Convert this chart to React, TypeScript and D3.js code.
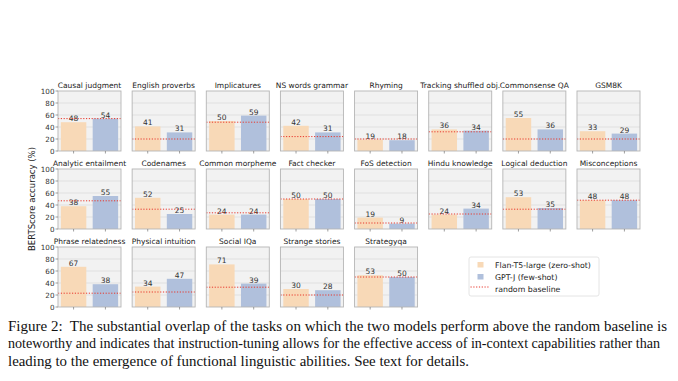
import React from "react";
import * as d3 from "d3";

const tasks = [
  "Causal judgment", "English proverbs", "Implicatures", "NS words grammar", "Rhyming",
  "Tracking shuffled obj.", "Commonsense QA", "GSM8K",
  "Analytic entailment", "Codenames", "Common morpheme", "Fact checker", "FoS detection",
  "Hindu knowledge", "Logical deduction", "Misconceptions",
  "Phrase relatedness", "Physical intuition", "Social IQa", "Strange stories", "Strategyqa",
];
const flanT5 = [48, 41, 50, 42, 19, 36, 55, 33, 38, 52, 24, 50, 19, 24, 53, 48, 67, 34, 71, 30, 53];
const gptJ = [54, 31, 59, 31, 18, 34, 36, 29, 55, 25, 24, 50, 9, 34, 35, 48, 38, 47, 39, 28, 50];
const randomBaseline = [54, 20, 48, 24, 20, 32, 20, 20, 47, 33, 27, 50, 10, 25, 33, 48, 23, 25, 33, 20, 50];
const yTicks = [0, 20, 40, 60, 80, 100];
const seriesNames = ["Flan-T5-large (zero-shot)", "GPT-J (few-shot)", "random baseline"];
const captionLines = [
  "Figure 2:  The substantial overlap of the tasks on which the two models perform above the random baseline is",
  "noteworthy and indicates that instruction-tuning allows for the effective access of in-context capabilities rather than",
  "leading to the emergence of functional linguistic abilities. See text for details.",
];
const captionWidths = [659, 652, 461];

const ORANGE = "#f8d9b7";
const BLUE = "#b0c0dc";
const RED = "#e8372c";
const FONT = "DejaVu Sans, sans-serif";

const NCOL = 8;
const PW = 63;
const PH = 60;
const colX = d3.scaleLinear().domain([0, NCOL - 1]).range([58, 577]);
const rowY = d3.scaleLinear().domain([0, 2]).range([91, 247]);
const x = d3.scaleLinear().domain([-0.49, 1.49]).range([0, PW]);
const y = d3.scaleLinear().domain([0, 100]).range([PH, 0]);

function Panel({ i }: { i: number }) {
  const c = i % NCOL;
  const r = Math.floor(i / NCOL);
  const vals = [flanT5[i], gptJ[i]];
  const cols = [ORANGE, BLUE];
  return (
    <g transform={`translate(${colX(c)},${rowY(r)})`}>
      <rect x={0} y={0} width={PW} height={PH} fill="#f2f2f2" />
      {yTicks.slice(1, -1).map((t) => (
        <line key={t} x1={0} x2={PW} y1={y(t)} y2={y(t)} stroke="#dcdcdc" strokeWidth={0.8} />
      ))}
      {vals.map((v, k) => (
        <g key={k}>
          <rect x={x(k - 0.4)} y={y(v)} width={x(k + 0.4) - x(k - 0.4)} height={y(0) - y(v)} fill={cols[k]} />
          <text x={x(k)} y={y(v) - 1} textAnchor="middle" fontSize={7.5} fill="#333" fontFamily={FONT}>
            {v}
          </text>
        </g>
      ))}
      <line x1={0} x2={PW} y1={y(randomBaseline[i])} y2={y(randomBaseline[i])} stroke={RED} strokeWidth={1} strokeDasharray="1.2,1.6" />
      <rect x={0} y={0} width={PW} height={PH} fill="none" stroke="#b5b5b5" strokeWidth={0.9} />
      {[0, 1].map((k) => (
        <line key={k} x1={x(k)} x2={x(k)} y1={PH} y2={PH + 2.5} stroke="#777" strokeWidth={0.7} />
      ))}
      {c === 0 &&
        yTicks.map((t) => (
          <g key={t}>
            <line x1={-2.5} x2={0} y1={y(t)} y2={y(t)} stroke="#777" strokeWidth={0.7} />
            <text x={-3.5} y={y(t) + 2.6} textAnchor="end" fontSize={7.2} fill="#333" fontFamily={FONT}>
              {t}
            </text>
          </g>
        ))}
      <text x={PW / 2} y={-3} textAnchor="middle" fontSize={7.5} fill="#222" fontFamily={FONT}>
        {tasks[i]}
      </text>
    </g>
  );
}

export default function App() {
  return (
    <svg width={678} height={381} style={{ position: "absolute", left: 0, top: 0, background: "#fff" }}>
      {tasks.map((_, i) => (
        <Panel key={i} i={i} />
      ))}
      <text transform="translate(35,199) rotate(-90)" textAnchor="middle" fontSize={8.5} fill="#222" fontFamily={FONT}>
        BERTScore accuracy (%)
      </text>
      <g transform="translate(469,257)">
        <rect x={0} y={0} width={130} height={39} rx={2} fill="#fff" stroke="#ddd" strokeWidth={0.8} />
        <rect x={8.5} y={5} width={6} height={5.5} fill={ORANGE} />
        <rect x={8.5} y={17} width={6} height={5.5} fill={BLUE} />
        <line x1={1.5} x2={20} y1={30} y2={30} stroke={RED} strokeWidth={1} strokeDasharray="1.2,1.6" />
        {seriesNames.map((s, k) => (
          <text key={s} x={26} y={10.5 + k * 12} fontSize={7.8} fill="#222" fontFamily={FONT}>
            {s}
          </text>
        ))}
      </g>
      {captionLines.map((l, k) => (
        <text
          key={k}
          x={8}
          y={331 + k * 17.3}
          fontSize={14.2}
          fill="#111"
          fontFamily="'Liberation Serif', 'Times New Roman', serif"
          textLength={captionWidths[k]}
          lengthAdjust="spacingAndGlyphs"
          style={{ whiteSpace: "pre" }}
        >
          {l}
        </text>
      ))}
    </svg>
  );
}
